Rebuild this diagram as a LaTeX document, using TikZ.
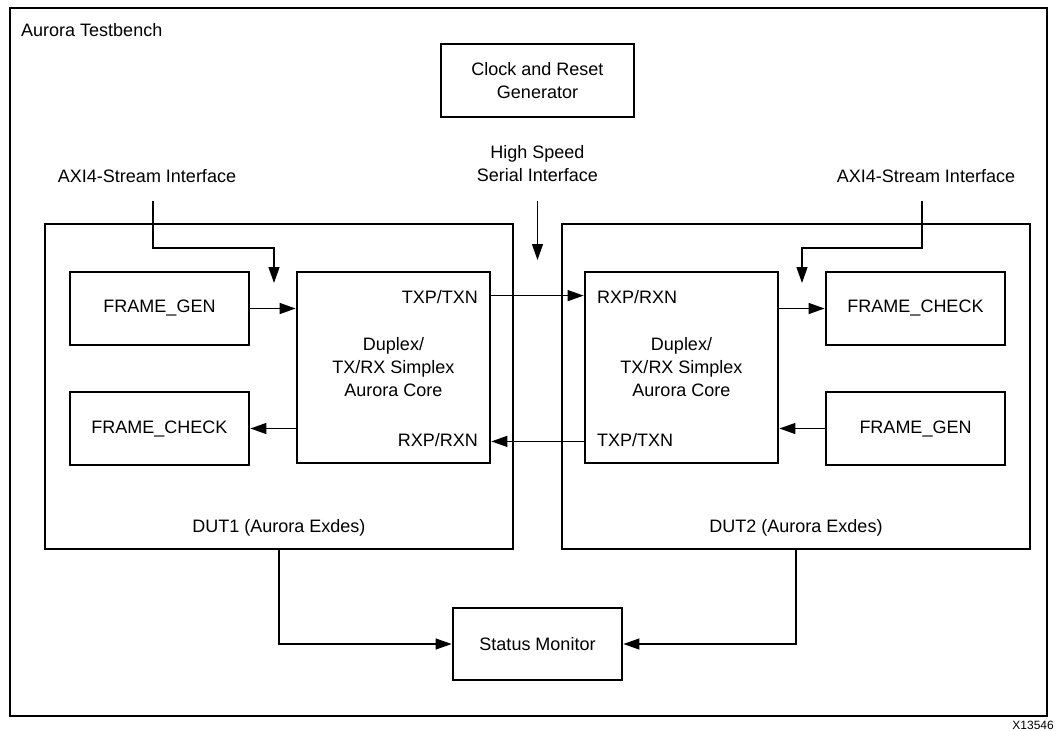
\documentclass[tikz,border=0pt]{standalone}
\usepackage{fontspec}
\setmainfont{Liberation Sans}
\usetikzlibrary{arrows.meta}
\begin{document}
\begin{tikzpicture}[x=1pt,y=-1pt,
  box/.style={draw, line width=2.8pt, inner sep=0pt, font=\fontsize{18}{23}\selectfont, align=center},
  lbl/.style={inner sep=0pt, font=\fontsize{18}{23}\selectfont, align=center},
  conn/.style={line width=1.3pt, -{Triangle[length=16pt,width=11pt]}},
  frame/.style={draw, line width=2.5pt}]
\useasboundingbox (0,0) rectangle (1058,731);
% outer testbench frame
\draw[frame] (10,8) rectangle (1047,716);
\node[lbl, anchor=base west] (tb) at (21,36) {Aurora Testbench};
\node[lbl, anchor=base east, font=\fontsize{12}{14}\selectfont] (xid) at (1054,729.5) {X13546};

% boxes
\node[box, minimum width=193pt, minimum height=73pt] (clk) at (537.5,80.5) {Clock and Reset\\Generator};
\node[box, minimum width=468pt, minimum height=325pt] (dut1) at (279,386.5) {};
\node[box, minimum width=468pt, minimum height=325pt] (dut2) at (796,386.5) {};
\node[box, minimum width=193pt, minimum height=191pt] (core1) at (393.5,367.5) {Duplex/\\TX/RX Simplex\\Aurora Core};
\node[box, minimum width=193pt, minimum height=191pt] (core2) at (681.5,367.5) {Duplex/\\TX/RX Simplex\\Aurora Core};
\node[box, minimum width=179pt, minimum height=73pt] (fg1) at (159.5,308.5) {FRAME\_GEN};
\node[box, minimum width=179pt, minimum height=73pt] (fc1) at (159.5,428.5) {FRAME\_CHECK};
\node[box, minimum width=179pt, minimum height=73pt] (fc2) at (915.5,308.5) {FRAME\_CHECK};
\node[box, minimum width=179pt, minimum height=73pt] (fg2) at (915.5,428.5) {FRAME\_GEN};
\node[box, minimum width=169pt, minimum height=72pt] (stat) at (537.5,644) {Status Monitor};

% labels
\node[lbl] (hs) at (537.5,164) {High Speed\\Serial Interface};
\node[lbl, anchor=base] (axil) at (147,182) {AXI4-Stream Interface};
\node[lbl, anchor=base] (axir) at (926,182) {AXI4-Stream Interface};
\node[lbl, anchor=base east] (tx1) at (478,303.5) {TXP/TXN};
\node[lbl, anchor=base east] (rx1) at (478,446.5) {RXP/RXN};
\node[lbl, anchor=base west] (rx2) at (597,303.5) {RXP/RXN};
\node[lbl, anchor=base west] (tx2) at (597,446.5) {TXP/TXN};
\node[lbl, anchor=base] (d1l) at (279,532.5) {DUT1 (Aurora Exdes)};
\node[lbl, anchor=base] (d2l) at (796,532.5) {DUT2 (Aurora Exdes)};

% free ends
\coordinate (hsS) at (537.5,201);
\coordinate (hsE) at (537.5,260);
\coordinate (axilS) at (153,201);
\coordinate (axilE) at (274,283);
\coordinate (axirS) at (922,201);
\coordinate (axirE) at (802,283);

% connectors
\draw[conn] (hsS) -- (hsE);
\draw[conn] (axilS) -- (153,248) -| (axilE);
\draw[conn] (axirS) -- (922,248) -| (axirE);
\draw[conn] (fg1.east) -- (fg1.east -| core1.west);
\draw[conn] (fc1.east -| core1.west) -- (fc1.east);
\draw[conn] ([yshift=-25pt]core1.north east) -- ([yshift=-25pt]core2.north west);
\draw[conn] ([yshift=23pt]core2.south west) -- ([yshift=23pt]core1.south east);
\draw[conn] (fc2.west -| core2.east) -- (fc2.west);
\draw[conn] (fg2.west) -- (fg2.west -| core2.east);
\draw[conn] (dut1.south) |- (stat.west);
\draw[conn] (dut2.south) |- (stat.east);
\end{tikzpicture}
\end{document}
